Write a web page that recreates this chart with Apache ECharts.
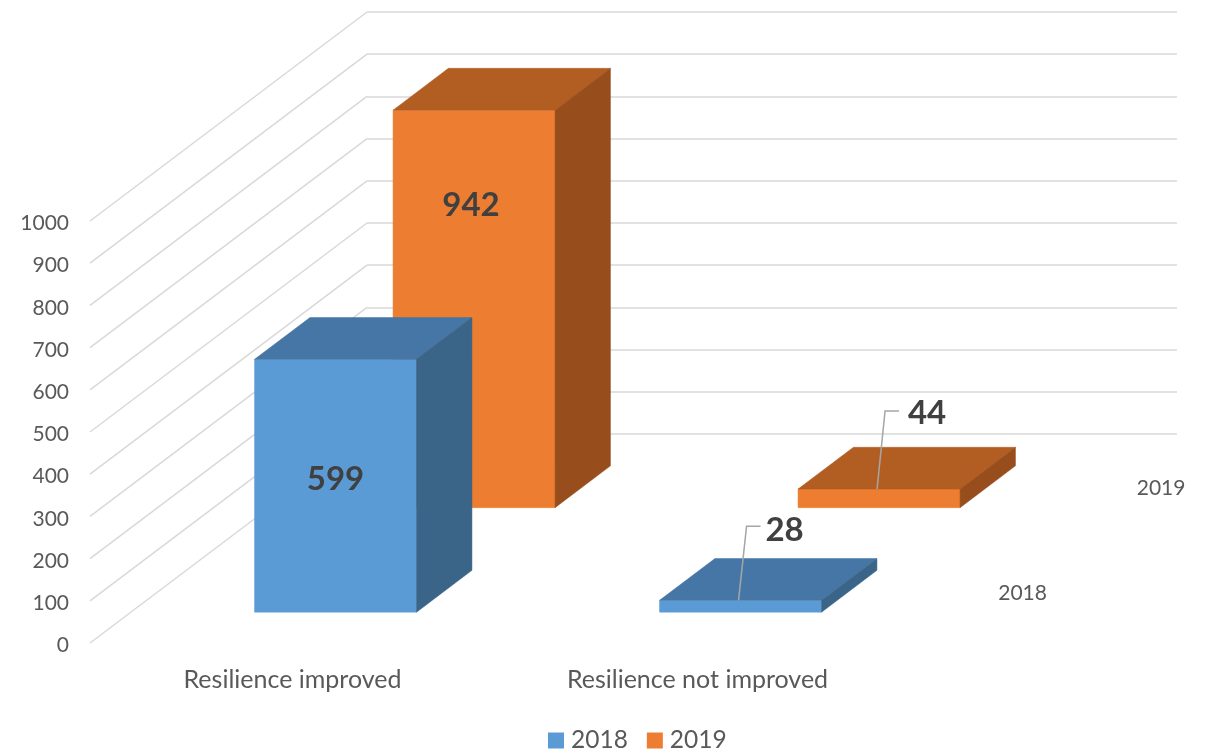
<!DOCTYPE html>
<html>
<head>
<meta charset="utf-8">
<style>html,body{margin:0;padding:0;background:#fff}#chart{width:1210px;height:751px}</style>
<script src="https://cdn.jsdelivr.net/npm/echarts@6/dist/echarts.min.js"></script>
</head>
<body>
<div id="chart"></div>
<script>
// Values of the chart
const categories = ['Resilience improved', 'Resilience not improved'];
const years = ['2018', '2019'];
const values2018 = [599, 28];
const values2019 = [942, 44];
const valueTicks = [0, 100, 200, 300, 400, 500, 600, 700, 800, 900, 1000];

// Oblique projection: the whole depth of the floor, in screen pixels
const DEPTH_X = 277;
const DEPTH_Y = -209;
const BAR_SHARE = 0.4;   // share of a category band, and of a depth band, taken by a bar
const BAR_NUDGE_X = 1.5;
const BAR_NUDGE_Y = 0.5;

const FONT = 'Lato, "Open Sans", sans-serif';
const AXIS_TEXT = '#595959';
const LINE = '#D9D9D9';

const palette = {
  2018: { front: '#5B9BD5', top: '#4676A5', side: '#3A6589' },
  2019: { front: '#ED7D31', top: '#B25D22', side: '#974E1C' }
};

// Label placement per year: drop from the top of the front face (as a share of its
// height), sideways shift, and the leader line used on shallow boxes
const labelStyle = {
  2018: { drop: 0.474, shift: 0, rise: 74, labelX: 44, labelY: 70 },
  2019: { drop: 0.24, shift: -3, rise: 78, labelX: 48, labelY: 76 }
};

function poly(points, fill) {
  return {
    type: 'polygon',
    shape: { points },
    style: { fill, stroke: fill, lineWidth: 0.5 },
    silent: true
  };
}

// A box standing in depth row `row`, with its value label
function renderBox(row, year) {
  return function (params, api) {
    const cat = api.value(0);
    const val = api.value(1);
    const base = api.coord([cat, 0]);
    const topPt = api.coord([cat, val]);
    const w = api.size([1, 0])[0] * BAR_SHARE;
    const t0 = (row + 0.5) / years.length - BAR_SHARE / (2 * years.length);
    const t1 = t0 + BAR_SHARE / years.length;
    const ox = DEPTH_X * t0 + BAR_NUDGE_X, oy = DEPTH_Y * t0 + BAR_NUDGE_Y;
    const dx = DEPTH_X * (t1 - t0), dy = DEPTH_Y * (t1 - t0);
    const l = base[0] - w / 2 + ox, r = l + w;
    const b = base[1] + oy, t = topPt[1] + oy;
    const c = palette[year];
    const s = labelStyle[year];
    const children = [
      poly([[l, b], [r, b], [r, t], [l, t]], c.front),
      poly([[l, t], [r, t], [r + dx, t + dy], [l + dx, t + dy]], c.top),
      poly([[r, b], [r + dx, b + dy], [r + dx, t + dy], [r, t]], c.side)
    ];
    const mid = (l + r) / 2;
    const label = {
      fill: '#404040', fontFamily: FONT, fontWeight: 'bold', fontSize: 33,
      text: String(val), textAlign: 'center', textVerticalAlign: 'middle'
    };
    if (b - t > 60) {
      children.push({
        type: 'text', silent: true,
        style: Object.assign({ x: mid + s.shift, y: t + (b - t) * s.drop }, label)
      });
    } else {
      // Shallow boxes carry the label on a leader line
      children.push({
        type: 'polyline', silent: true,
        shape: { points: [[mid - 2, t], [mid + 6, t - s.rise], [mid + 20, t - s.rise]] },
        style: { stroke: '#A6A6A6', lineWidth: 1.5, fill: 'none' }
      });
      children.push({
        type: 'text', silent: true,
        style: Object.assign({ x: mid + s.labelX, y: t - s.labelY }, label)
      });
    }
    return { type: 'group', children };
  };
}

// Receding lines on the side wall, one for each value tick
function renderWallLine(params, api) {
  const p = api.coord([0, api.value(0)]);
  const x = params.coordSys.x;
  return {
    type: 'line', silent: true,
    shape: { x1: x, y1: p[1], x2: x + DEPTH_X, y2: p[1] + DEPTH_Y },
    style: { stroke: LINE, lineWidth: 1.5 }
  };
}

// Depth axis labels beside the floor
function renderDepthLabel(params, api) {
  const i = params.dataIndex;
  const cs = params.coordSys;
  const t = (i + 0.5) / years.length;
  return {
    type: 'text', silent: true,
    style: {
      x: cs.x + cs.width + DEPTH_X * t + 29,
      y: cs.y + cs.height + DEPTH_Y * t + 2,
      text: years[i], fill: AXIS_TEXT, fontFamily: FONT, fontSize: 21,
      textAlign: 'left', textVerticalAlign: 'middle'
    }
  };
}

const chart = echarts.init(document.getElementById('chart'), null, { renderer: 'canvas' });
chart.setOption({
  animation: false,
  backgroundColor: '#ffffff',
  grid: [
    { left: 90, width: 810, top: 221, height: 422 },
    { left: 367, width: 810, top: 12, height: 422 }
  ],
  xAxis: [
    {
      type: 'category', gridIndex: 0, data: categories,
      axisLine: { show: false }, axisTick: { show: false },
      axisLabel: { color: AXIS_TEXT, fontFamily: FONT, fontSize: 25, margin: 24 }
    },
    { type: 'category', gridIndex: 1, data: categories, show: false }
  ],
  yAxis: [
    {
      type: 'value', gridIndex: 0, min: 0, max: 1000, interval: 100,
      axisLine: { show: false }, axisTick: { show: false }, splitLine: { show: false },
      axisLabel: {
        margin: 21,
        formatter: v => '{v|' + v + '}',
        rich: { v: { color: AXIS_TEXT, fontFamily: FONT, fontSize: 21, padding: [5, 0, 0, 0] } }
      }
    },
    {
      type: 'value', gridIndex: 1, min: 0, max: 1000, interval: 100,
      axisLine: { show: false }, axisTick: { show: false }, axisLabel: { show: false },
      splitLine: { show: true, lineStyle: { color: LINE, width: 1.5 } }
    }
  ],
  legend: {
    data: years,
    top: 728, left: 548, padding: 0,
    icon: 'rect', itemWidth: 16, itemHeight: 16, itemGap: 19,
    textStyle: { color: AXIS_TEXT, fontFamily: FONT, fontSize: 24.5, padding: [0, 0, 0, 2] }
  },
  series: [
    {
      type: 'custom', name: 'wall', xAxisIndex: 0, yAxisIndex: 0,
      data: valueTicks.map(v => [v]), encode: { x: -1, y: 0 }, renderItem: renderWallLine
    },
    {
      type: 'custom', name: 'depth', xAxisIndex: 0, yAxisIndex: 0,
      data: years.map(() => [0]), encode: { x: -1, y: 0 }, renderItem: renderDepthLabel
    },
    {
      type: 'custom', name: '2019', xAxisIndex: 0, yAxisIndex: 0,
      itemStyle: { color: palette[2019].front },
      data: values2019.map((v, i) => [i, v]), encode: { x: 0, y: 1 }, renderItem: renderBox(1, '2019')
    },
    {
      type: 'custom', name: '2018', xAxisIndex: 0, yAxisIndex: 0,
      itemStyle: { color: palette[2018].front },
      data: values2018.map((v, i) => [i, v]), encode: { x: 0, y: 1 }, renderItem: renderBox(0, '2018')
    }
  ]
});
</script>
</body>
</html>
